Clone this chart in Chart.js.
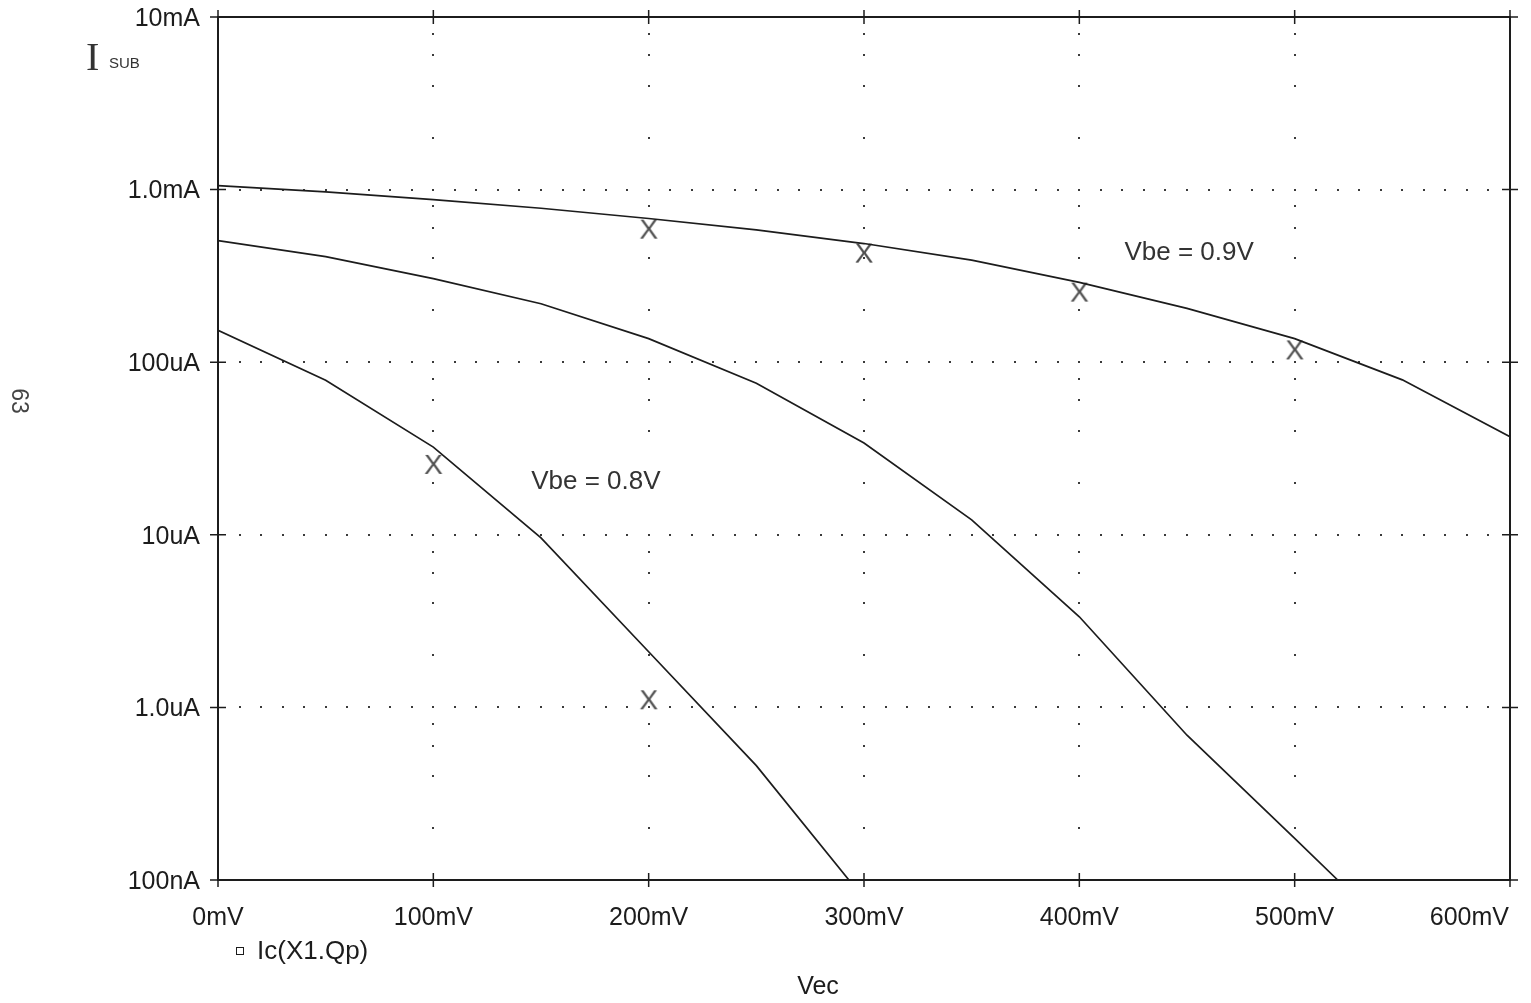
<!DOCTYPE html>
<html>
<head>
<meta charset="utf-8">
<script src="https://cdn.jsdelivr.net/npm/chart.js@4.4.1/dist/chart.umd.min.js"></script>
<style>
  html, body { margin: 0; padding: 0; background: #fff; }
  canvas { display: block; }
</style>
</head>
<body>
<canvas id="ivChart" width="1531" height="1003"></canvas>
<script>
// Values (x in mV, y in uA)
const xTicks = [0, 100, 200, 300, 400, 500, 600];
const xTickLabels = ['0mV', '100mV', '200mV', '300mV', '400mV', '500mV', '600mV'];
const yTicks = [0.1, 1, 10, 100, 1000, 10000];
const yTickLabels = ['100nA', '1.0uA', '10uA', '100uA', '1.0mA', '10mA'];

const topVec = [0, 50, 100, 150, 200, 250, 300, 350, 400, 450, 500, 550, 600];
const topIc  = [1055, 970, 875, 780, 680, 585, 487, 390, 290, 205, 137, 79, 37];

const midVec = [0, 50, 100, 150, 200, 250, 300, 350, 400, 450, 500, 520];
const midIc  = [507, 409, 305, 218, 137, 75.5, 34, 12.2, 3.35, 0.69, 0.174, 0.1];

const lowVec = [0, 50, 100, 150, 200, 250, 293];
const lowIc  = [153, 78.7, 32.2, 9.6, 2.1, 0.46, 0.1];

const markVec = [100, 200, 200, 300, 400, 500];
const markIc  = [25.4, 1.1, 586, 426, 253, 117];

const notes = [
  { text: 'Vbe = 0.9V', x: 451, y: 432 },
  { text: 'Vbe = 0.8V', x: 175.5, y: 20.3 }
];

const FONT = '"Liberation Sans", Arial, sans-serif';
const INK = '#1c1c1c';

function pts(xs, ys) {
  return xs.map((v, i) => ({ x: v, y: ys[i] }));
}

// the simulator draws its markers as a letter X
const xMark = document.createElement('canvas');
xMark.width = 20; xMark.height = 26;
(function () {
  const c = xMark.getContext('2d');
  c.fillStyle = '#505050';
  c.font = '28px ' + FONT;
  c.textAlign = 'center';
  c.textBaseline = 'middle';
  c.fillText('X', 10, 14);
})();

const paper = {
  id: 'paper',
  beforeDatasetsDraw(chart) {
    const { ctx, scales: { x, y } } = chart;
    ctx.save();
    ctx.fillStyle = '#3a3a3a';
    // dotted decade lines, a dot every 10 mV
    yTicks.slice(1, -1).forEach(v => {
      const py = Math.round(y.getPixelForValue(v));
      for (let mv = 10; mv < 600; mv += 10) {
        ctx.fillRect(Math.round(x.getPixelForValue(mv)) - 1, py - 1, 2, 2);
      }
    });
    // dotted 100 mV lines, dots at 2/4/6/8 of each decade
    xTicks.slice(1, -1).forEach(mv => {
      const px = Math.round(x.getPixelForValue(mv));
      yTicks.slice(0, -1).forEach(d => {
        [2, 4, 6, 8].forEach(m => {
          ctx.fillRect(px - 1, Math.round(y.getPixelForValue(d * m)) - 1, 2, 2);
        });
      });
    });
    ctx.restore();
  },
  afterDraw(chart) {
    const { ctx, chartArea: a, scales: { x, y } } = chart;
    ctx.save();
    ctx.strokeStyle = INK;
    ctx.lineWidth = 2;
    ctx.strokeRect(a.left, a.top, a.right - a.left, a.bottom - a.top);

    // cross ticks on the frame
    ctx.lineWidth = 1.5;
    ctx.beginPath();
    xTicks.forEach(mv => {
      const px = x.getPixelForValue(mv);
      ctx.moveTo(px, a.top - 7); ctx.lineTo(px, a.top + 7);
      ctx.moveTo(px, a.bottom - 7); ctx.lineTo(px, a.bottom + 7);
    });
    yTicks.forEach(v => {
      const py = y.getPixelForValue(v);
      ctx.moveTo(a.left - 8, py); ctx.lineTo(a.left + 8, py);
      ctx.moveTo(a.right - 8, py); ctx.lineTo(a.right + 8, py);
    });
    ctx.stroke();

    ctx.fillStyle = INK;
    ctx.font = '25px ' + FONT;
    ctx.textBaseline = 'middle';
    ctx.textAlign = 'right';
    yTicks.forEach((v, i) => ctx.fillText(yTickLabels[i], a.left - 18, y.getPixelForValue(v) + 2));
    ctx.textAlign = 'center';
    xTicks.forEach((mv, i) => {
      const half = ctx.measureText(xTickLabels[i]).width / 2;
      const px = Math.min(x.getPixelForValue(mv), chart.width - half - 22);
      ctx.fillText(xTickLabels[i], px, a.bottom + 38);
    });

    // axis title
    ctx.fillText('Vec', 818, 987);

    // curve notes
    ctx.fillStyle = '#333';
    ctx.font = '26px ' + FONT;
    notes.forEach(n => ctx.fillText(n.text, x.getPixelForValue(n.x), y.getPixelForValue(n.y)));

    // legend entry
    ctx.fillStyle = INK;
    ctx.lineWidth = 1;
    ctx.strokeRect(236.5, 947.5, 7, 7);
    ctx.font = '26px ' + FONT;
    ctx.textAlign = 'left';
    ctx.fillText('Ic(X1.Qp)', 257, 952);

    // I-sub label in the corner
    ctx.font = '40px "Liberation Serif", serif';
    ctx.fillStyle = '#333';
    ctx.textBaseline = 'alphabetic';
    ctx.fillText('I', 86, 70);
    ctx.font = '15px ' + FONT;
    ctx.fillText('SUB', 109, 68);

    // page number in the margin
    ctx.translate(18, 401);
    ctx.rotate(Math.PI / 2);
    ctx.font = '23px ' + FONT;
    ctx.textAlign = 'center';
    ctx.textBaseline = 'middle';
    ctx.fillStyle = '#444';
    ctx.fillText('63', 0, 0);
    ctx.restore();
  }
};

const curve = (xs, ys) => ({
  data: pts(xs, ys),
  showLine: true,
  borderColor: INK,
  borderWidth: 1.7,
  pointRadius: 0,
  tension: 0
});

new Chart(document.getElementById('ivChart'), {
  type: 'scatter',
  data: {
    datasets: [
      curve(topVec, topIc),
      curve(midVec, midIc),
      curve(lowVec, lowIc),
      {
        data: pts(markVec, markIc),
        showLine: false,
        pointStyle: xMark,
        pointRadius: 10
      }
    ]
  },
  options: {
    responsive: false,
    animation: false,
    devicePixelRatio: 1,
    layout: { padding: { left: 218, top: 17, right: 21, bottom: 123 } },
    plugins: { legend: { display: false }, tooltip: { enabled: false } },
    scales: {
      x: { type: 'linear', min: 0, max: 600, display: false },
      y: { type: 'logarithmic', min: 0.1, max: 10000, display: false }
    }
  },
  plugins: [paper]
});
</script>
</body>
</html>
